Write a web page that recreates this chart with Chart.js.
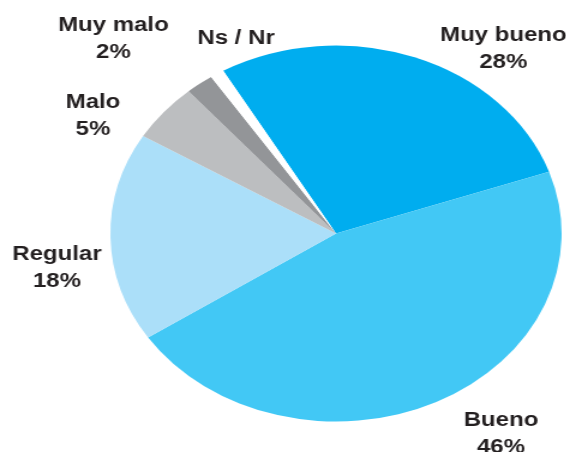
<!DOCTYPE html>
<html>
<head>
<meta charset="utf-8">
<script src="https://cdn.jsdelivr.net/npm/chart.js@4.4.0/dist/chart.umd.min.js"></script>
<style>
    html, body { margin: 0; padding: 0; background: #fff; overflow: hidden; }
    /* el original está estirado en horizontal, así que se estira el lienzo */
    #wrap { width: 472px; height: 452px; transform: scale(1.2, 1); transform-origin: 0 0; }
</style>
</head>
<body>
<div id="wrap"><canvas id="pieChart"></canvas></div>
<script>
const categories = ["Muy bueno", "Bueno", "Regular", "Malo", "Muy malo", "Ns / Nr"];
const values = [28, 46, 18, 5, 2, 1];
const percentLabels = ["28%", "46%", "18%", "5%", "2%", ""];
const colors = ["#00ADEF", "#42C8F5", "#ABDFF9", "#BCBEC0", "#939598", "#FFFFFF"];

// Posición de cada etiqueta (x centro, línea base de la primera línea)
const labelPos = [
    [419.5, 41], [417.5, 426], [47.5, 260], [77.5, 108], [94.5, 31], [196.7, 44]
];

document.addEventListener("DOMContentLoaded", function() {
    const canvas = document.getElementById("pieChart");

    // Dibuja los textos de las categorías y sus porcentajes
    const labelPlugin = {
        id: "sliceLabels",
        afterDraw(chart) {
            const ctx = chart.ctx;
            ctx.save();
            ctx.fillStyle = "#231F20";
            ctx.font = "bold 20px 'Liberation Sans', Arial, sans-serif";
            ctx.textAlign = "center";
            ctx.textBaseline = "alphabetic";
            categories.forEach(function(name, i) {
                const [x, y] = labelPos[i];
                ctx.fillText(name, x, y);
                if (percentLabels[i]) ctx.fillText(percentLabels[i], x, y + 27);
            });
            ctx.restore();
        }
    };

    new Chart(canvas, {
        type: "pie",
        data: {
            labels: categories,
            datasets: [{
                data: values,
                backgroundColor: colors,
                borderWidth: 0,
                hoverOffset: 0
            }]
        },
        options: {
            responsive: true,
            maintainAspectRatio: false,
            animation: false,
            rotation: -30,
            layout: {
                padding: { top: 45.5, bottom: 30.5, left: 92, right: 4 }
            },
            plugins: {
                legend: { display: false },
                tooltip: { enabled: false }
            }
        },
        plugins: [labelPlugin]
    });
});
</script>
</body>
</html>
